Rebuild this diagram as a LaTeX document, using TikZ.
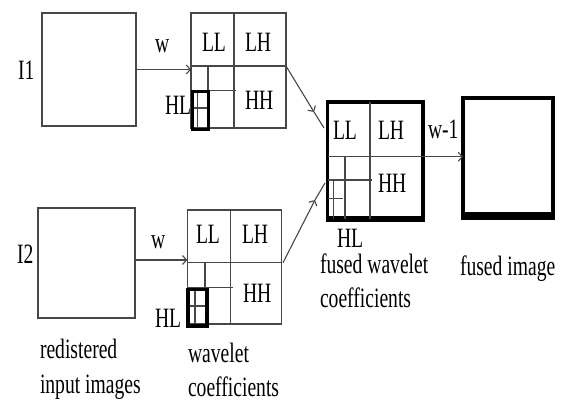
\documentclass[tikz,border=0pt]{standalone}
\usepackage{fontspec}
\setmainfont{Liberation Serif}[FakeStretch=0.70]
\usetikzlibrary{arrows.meta}
\begin{document}
\begin{tikzpicture}[x=1pt,y=-1pt,
  thin/.style={draw=black!72, line width=1.1pt},
  box/.style={rectangle, thin, inner sep=0pt, outer sep=0pt},
  heavybox/.style={rectangle, draw=black, line width=3.6pt, inner sep=0pt, outer sep=0pt},
  heavy/.style={draw=black, line width=3.4pt},
  arr/.style={thin, -{Straight Barb[length=4pt,width=9pt]}},
  lbl/.style={inner sep=0pt, outer sep=0pt, anchor=base west, text=black,
    font=\fontsize{28}{28}\selectfont}]
\useasboundingbox (0,0) rectangle (565,401);

% input images
\node[box, minimum width=94pt, minimum height=113pt] (I1) at (89,69.5) {};
\node[box, minimum width=97pt, minimum height=110pt] (I2) at (86.5,263) {};
\node[lbl] (tI1) at (18,80) {I1};
\node[lbl] (tI2) at (17,263) {I2};

% top wavelet grid
\node[box, minimum width=95pt, minimum height=115pt] (G1) at (238.5,70.5) {};
\draw[thin] (234,13) -- (234,128);
\draw[thin] (191,66) -- (286,66);
\draw[thin] (208,66) -- (208,90.5);
\draw[thin] (191,90.5) -- (236,90.5);
\draw[thin] (197.5,91.5) -- (197.5,130);
\draw[thin] (192.5,108) -- (209,108);
\draw[heavy] (192.5,91.5) rectangle (208.7,129.7);
\node[lbl] (tLL1) at (202,52) {LL};
\node[lbl] (tLH1) at (245,52) {LH};
\node[lbl] (tHH1) at (245,110) {HH};
\node[lbl] (tHL1) at (165,115) {HL};

% bottom wavelet grid
\node[box, minimum width=94.5pt, minimum height=114pt] (G2) at (234.5,267) {};
\draw[thin] (230.7,210) -- (230.7,324);
\draw[thin] (187.3,262.7) -- (281.7,262.7);
\draw[thin] (205,262.7) -- (205,287.3);
\draw[thin] (187.3,287.3) -- (232.7,287.3);
\draw[thin] (195,289.5) -- (195,326);
\draw[thin] (188,306) -- (207,306);
\draw[heavy] (188,289.5) rectangle (207,326);
\node[lbl] (tLL2) at (196,243) {LL};
\node[lbl] (tLH2) at (242,243) {LH};
\node[lbl] (tHH2) at (243,302) {HH};
\node[lbl] (tHL2) at (155,327) {HL};

% fused wavelet grid
\node[heavybox, minimum width=95.5pt, minimum height=117pt] (F) at (375.25,160.5) {};
\draw[heavy, line width=5.5pt] (326,219) -- (425,219);
\draw[thin] (370,102) -- (370,219);
\draw[thin] (327.5,156.7) -- (423,156.7);
\draw[thin] (345,156.7) -- (345,219);
\draw[thin] (327.5,180) -- (372,180);
\draw[thin] (333.3,180) -- (333.3,219);
\draw[thin] (327.5,198.3) -- (343,198.3);
\node[lbl] (tLL3) at (333,140) {LL};
\node[lbl] (tLH3) at (378,140) {LH};
\node[lbl] (tHH3) at (378,193) {HH};
\node[lbl] (tHL3) at (337,247) {HL};

% fused image
\node[heavybox, minimum width=90pt, minimum height=118pt] (FI) at (508,157) {};
\draw[heavy, line width=8pt] (461,216) -- (555,216);

% connectors
\draw[arr] (I1.east) -- (I1.east -| G1.west);
\draw[arr] ([yshift=3pt]I2.east) -- ([yshift=3pt]I2.east -| G2.west);
\draw[arr] ([yshift=3.8pt]F.east) -- ([yshift=3.8pt]F.east -| FI.west);
\coordinate (d1s) at (286,66);
\coordinate (d1m) at (314,112);
\coordinate (d1e) at (324,128);
\draw[arr] (d1s) -- (d1m);
\draw[thin] (d1m) -- (d1e);
\coordinate (d2s) at (283,262.7);
\coordinate (d2m) at (315,200);
\coordinate (d2e) at (325,183);
\draw[arr] (d2s) -- (d2m);
\draw[thin] (d2m) -- (d2e);

\node[lbl] (tw1) at (155,53) {w};
\node[lbl] (tw2) at (151,248) {w};
\node[lbl] (tw3) at (428,139) {w-1};

% captions
\node[lbl] (c1a) at (40,358) {redistered};
\node[lbl] (c1b) at (40,393) {input images};
\node[lbl] (c2a) at (188,362) {wavelet};
\node[lbl] (c2b) at (188,396) {coefficients};
\node[lbl] (c3a) at (320,273) {fused wavelet};
\node[lbl] (c3b) at (320,307) {coefficients};
\node[lbl] (c4) at (460,275) {fused image};
\end{tikzpicture}
\end{document}
